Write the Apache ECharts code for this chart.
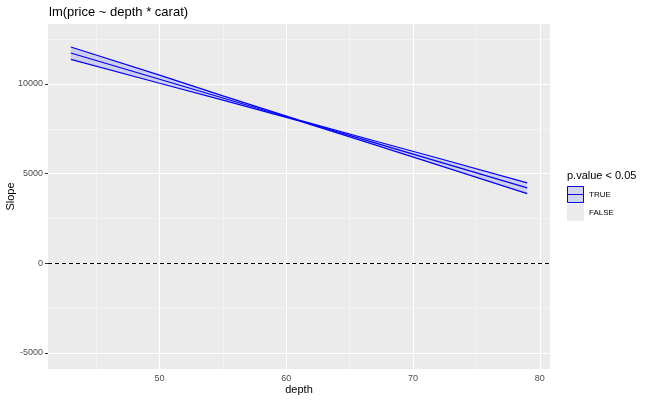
<!DOCTYPE html>
<html>
<head>
<meta charset="utf-8">
<script src="https://cdn.jsdelivr.net/npm/echarts@6/dist/echarts.min.js"></script>
<style>html,body{margin:0;padding:0;background:#fff}#c{width:647px;height:400px}</style>
</head>
<body>
<div id="c"></div>
<script>
// data
const depth = [43, 50, 55, 61, 67, 72, 79];
const estimate = [11728, 10265, 9220, 7966, 6712, 5667, 4203];
const upper = [12062, 10490, 9340, 7986, 6822, 5857, 4482];
const lower = [11372, 10040, 9100, 7946, 6602, 5477, 3885];
const xMajor = [50, 60, 70, 80];
const xMinor = [45, 55, 65, 75];
const yMajor = [-5000, 0, 5000, 10000];
const yMinor = [-2500, 2500, 7500, 12500];
const xRange = [41.2, 80.8];
const yRange = [-5892, 13344];

const pairs = (ys) => depth.map((d, i) => [d, ys[i]]);
const gridLines = [];
xMajor.forEach(v => gridLines.push({xAxis: v, lineStyle: {color: '#fff', width: 1.1, type: 'solid'}}));
xMinor.forEach(v => gridLines.push({xAxis: v, lineStyle: {color: '#fafafa', width: 0.55, type: 'solid'}}));
yMajor.forEach(v => gridLines.push({yAxis: v, lineStyle: {color: '#fff', width: 1.1, type: 'solid'}}));
yMinor.forEach(v => gridLines.push({yAxis: v, lineStyle: {color: '#fafafa', width: 0.55, type: 'solid'}}));

const chart = echarts.init(document.getElementById('c'), null, {renderer: 'canvas'});
const lblColor = '#4D4D4D';
const font = 'Liberation Sans, Arial';
chart.setOption({
  animation: false,
  title: {
    text: 'lm(price ~ depth * carat)', left: 44, top: 1,
    textStyle: {fontFamily: font, fontSize: 13, fontWeight: 'normal', color: '#000'}
  },
  grid: {left: 48, right: 97, top: 24, bottom: 31, show: true, backgroundColor: '#EBEBEB', borderWidth: 0,
         containLabel: false, outerBoundsMode: 'none'},
  xAxis: {
    type: 'value', min: xRange[0], max: xRange[1],
    axisLine: {show: false},
    splitLine: {show: false},
    axisTick: {show: true, length: 3, customValues: xMajor, lineStyle: {color: '#333', width: 1}},
    axisLabel: {customValues: xMajor, margin: 5, color: lblColor, fontFamily: font, fontSize: 9,
                formatter: v => String(v)},
    name: 'depth', nameLocation: 'middle', nameGap: 15, nameMoveOverlap: false,
    nameTextStyle: {fontFamily: font, fontSize: 11, color: '#000'}
  },
  yAxis: {
    type: 'value', min: yRange[0], max: yRange[1],
    axisLine: {show: false},
    splitLine: {show: false},
    axisTick: {show: true, length: 3, customValues: yMajor, lineStyle: {color: '#333', width: 1}},
    axisLabel: {customValues: yMajor, margin: 5, color: lblColor, fontFamily: font, fontSize: 9,
                formatter: v => String(v)},
    name: 'Slope', nameLocation: 'middle', nameGap: 32, nameRotate: 90, nameMoveOverlap: false,
    nameTextStyle: {fontFamily: font, fontSize: 11, color: '#000'}
  },
  series: [
    {
      type: 'line', data: [], z: 1, silent: true,
      markLine: {silent: true, z: 1, symbol: 'none', label: {show: false}, animation: false, data: gridLines}
    },
    {
      type: 'custom', z: 2, silent: true,
      data: [[depth[0], upper[0]]],
      renderItem: function (params, api) {
        const pts = [];
        depth.forEach((d, i) => pts.push(api.coord([d, upper[i]])));
        for (let i = depth.length - 1; i >= 0; i--) pts.push(api.coord([depth[i], lower[i]]));
        return {type: 'polygon', shape: {points: pts}, style: {fill: 'rgba(0,0,255,0.12)'}};
      }
    },
    {type: 'line', data: pairs(upper), symbol: 'none', z: 3, lineStyle: {color: '#0000FF', width: 1.2}},
    {type: 'line', data: pairs(estimate), symbol: 'none', z: 3, lineStyle: {color: '#0000FF', width: 1.2}},
    {type: 'line', data: pairs(lower), symbol: 'none', z: 3, lineStyle: {color: '#0000FF', width: 1.2}},
    {
      type: 'line', data: [], z: 4, silent: true,
      markLine: {silent: true, z: 4, symbol: 'none', label: {show: false}, animation: false,
        data: [{yAxis: 0, lineStyle: {color: '#000', width: 1, type: [4, 3]}}]}
    }
  ],
  graphic: [
    {type: 'text', left: 567, top: 170, style: {text: 'p.value < 0.05', fontFamily: font, fontSize: 11, fill: '#000'}},
    {type: 'rect', shape: {x: 567, y: 186, width: 17, height: 17}, style: {fill: '#EBEBEB'}},
    {type: 'rect', shape: {x: 567.5, y: 186.5, width: 16, height: 16}, style: {fill: '#d4d4ed', stroke: '#0000FF', lineWidth: 1}},
    {type: 'line', shape: {x1: 567.5, y1: 194.5, x2: 583.5, y2: 194.5}, style: {stroke: '#0000FF', lineWidth: 1}},
    {type: 'rect', shape: {x: 567, y: 204, width: 17, height: 17}, style: {fill: '#EBEBEB'}},
    {type: 'text', left: 589, top: 191, style: {text: 'TRUE', fontFamily: font, fontSize: 8, fill: '#000'}},
    {type: 'text', left: 589, top: 209, style: {text: 'FALSE', fontFamily: font, fontSize: 8, fill: '#000'}}
  ]
});
</script>
</body>
</html>
